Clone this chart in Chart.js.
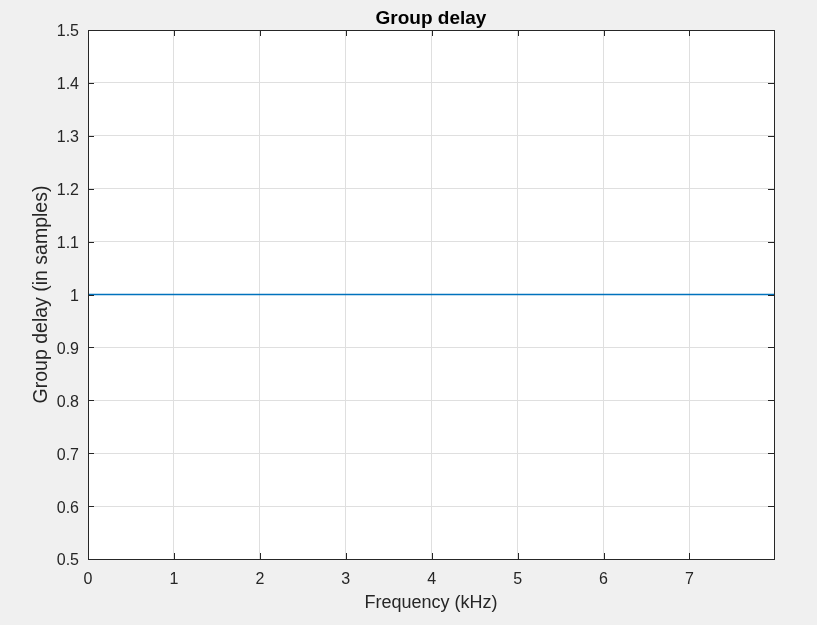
<!DOCTYPE html>
<html>
<head>
<meta charset="utf-8">
<script src="https://cdn.jsdelivr.net/npm/chart.js@4.4.1/dist/chart.umd.min.js"></script>
<style>
  html, body { margin: 0; padding: 0; background: #f0f0f0; }
  #wrap { width: 817px; height: 625px; }
</style>
</head>
<body>
<div id="wrap"><canvas id="chart" width="817" height="625"></canvas></div>
<script>
// group delay of the filter (flat at one sample)
const freqKHz = [0, 1, 2, 3, 4, 5, 6, 7, 7.984];
const groupDelay = [1, 1, 1, 1, 1, 1, 1, 1, 1];

const xTicks = [0, 1, 2, 3, 4, 5, 6, 7];
const yTicks = [0.5, 0.6, 0.7, 0.8, 0.9, 1, 1.1, 1.2, 1.3, 1.4, 1.5];
const yTickLabels = ["0.5", "0.6", "0.7", "0.8", "0.9", "1", "1.1", "1.2", "1.3", "1.4", "1.5"];

const axisColor = "#262626";
const fontFamily = "Arial, 'Liberation Sans', Helvetica, sans-serif";

// white plot box, black frame and inward ticks on all four sides (matlab style)
const boxPlugin = {
  id: "box",
  beforeDraw(chart) {
    const { ctx, chartArea: a } = chart;
    ctx.save();
    ctx.fillStyle = "#ffffff";
    ctx.fillRect(a.left, a.top, a.right - a.left, a.bottom - a.top);
    ctx.restore();
  },
  afterDatasetsDraw(chart) {
    const { ctx, chartArea: a, scales } = chart;
    const len = 6;
    ctx.save();
    ctx.strokeStyle = axisColor;
    ctx.lineWidth = 1;
    ctx.beginPath();
    xTicks.forEach((v) => {
      const x = Math.round(scales.x.getPixelForValue(v)) + 0.5;
      ctx.moveTo(x, a.bottom); ctx.lineTo(x, a.bottom - len);
      ctx.moveTo(x, a.top); ctx.lineTo(x, a.top + len);
    });
    yTicks.forEach((v) => {
      const y = Math.round(scales.y.getPixelForValue(v)) + 0.5;
      ctx.moveTo(a.left, y); ctx.lineTo(a.left + len, y);
      ctx.moveTo(a.right, y); ctx.lineTo(a.right - len, y);
    });
    ctx.stroke();
    ctx.strokeRect(Math.round(a.left) + 0.5, Math.round(a.top) + 0.5,
      Math.round(a.right - a.left), Math.round(a.bottom - a.top));
    ctx.restore();
  }
};

new Chart(document.getElementById("chart"), {
  type: "line",
  data: {
    datasets: [
      {
        label: "Group delay",
        data: freqKHz.map((f, i) => ({ x: f, y: groupDelay[i] })),
        borderColor: "#0072BD",
        borderWidth: 1.5,
        pointRadius: 0,
        tension: 0,
        fill: false
      }
    ]
  },
  options: {
    responsive: false,
    animation: false,
    layout: { padding: { left: 0, right: 43, top: 0, bottom: 0 } },
    plugins: {
      legend: { display: false },
      tooltip: { enabled: false },
      title: {
        display: true,
        text: "Group delay",
        fullSize: false,
        color: "#000000",
        font: { family: fontFamily, size: 19, weight: "bold" },
        padding: { top: 7, bottom: 0.2 }
      }
    },
    scales: {
      x: {
        type: "linear",
        min: 0,
        max: 7.984,
        afterBuildTicks: (scale) => { scale.ticks = xTicks.map((v) => ({ value: v })); },
        afterFit: (scale) => { scale.height = 66; },
        border: { display: false },
        grid: { color: "#dfdfdf", drawTicks: false },
        ticks: {
          color: axisColor,
          padding: 11,
          maxRotation: 0,
          font: { family: fontFamily, size: 16 },
          callback: (v) => String(v)
        },
        title: {
          display: true,
          text: "Frequency (kHz)",
          color: axisColor,
          font: { family: fontFamily, size: 18 },
          padding: { top: 0, bottom: 11 }
        }
      },
      y: {
        min: 0.5,
        max: 1.5,
        afterBuildTicks: (scale) => { scale.ticks = yTicks.map((v) => ({ value: v })); },
        afterFit: (scale) => { scale.width = 88; },
        border: { display: false },
        grid: { color: "#dfdfdf", drawTicks: false },
        ticks: {
          color: axisColor,
          padding: 9,
          labelOffset: 2,
          font: { family: fontFamily, size: 16 },
          callback: (v) => yTickLabels[yTicks.indexOf(Math.round(v * 10) / 10)]
        },
        title: {
          display: true,
          text: "Group delay (in samples)",
          color: axisColor,
          font: { family: fontFamily, size: 19.5 },
          padding: { top: 30, bottom: 0 }
        }
      }
    }
  },
  plugins: [boxPlugin]
});
</script>
</body>
</html>
